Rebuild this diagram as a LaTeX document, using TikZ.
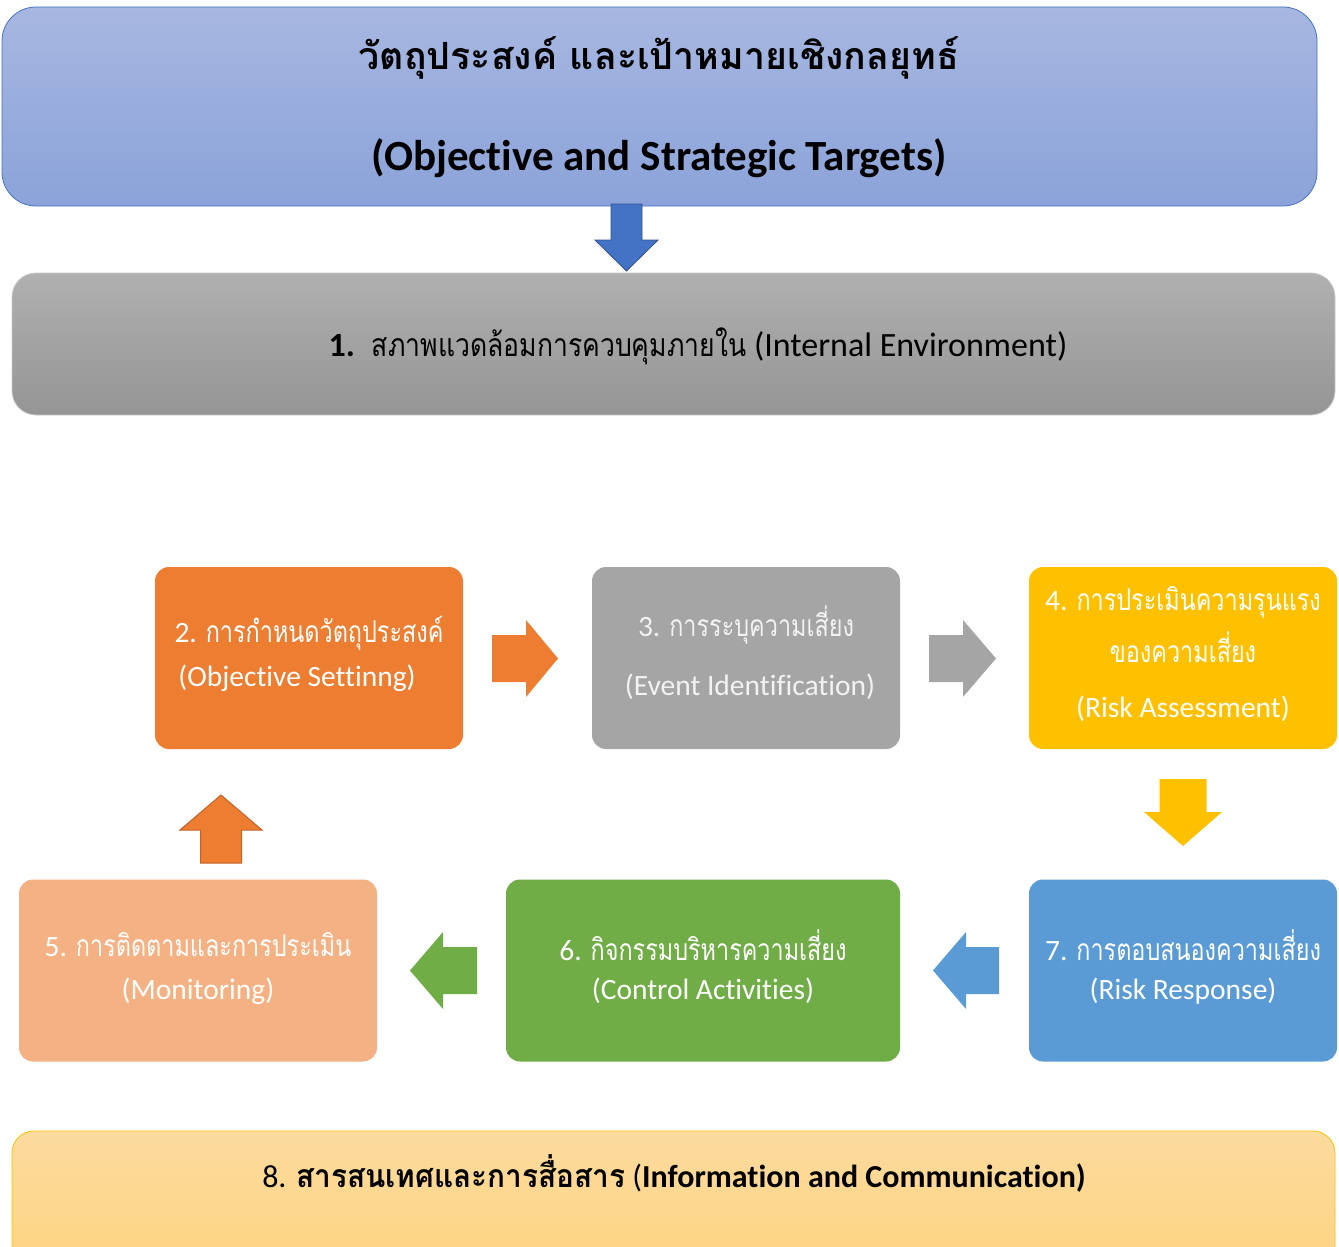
\documentclass[tikz,border=0pt]{standalone}
\usepackage{fontspec}
\setmainfont{Carlito}[Ligatures=NoCommon]
\newfontfamily\thaifont[Script=Thai]{Loma}
\newfontfamily\thaibox[Script=Thai, FakeStretch=0.78]{Loma}
\newfontfamily\thaienv[Script=Thai, FakeStretch=0.83]{Loma}
\newfontfamily\thaiinfo[Script=Thai, FakeStretch=0.93]{Loma}
\newcommand\bth[1]{{\fontsize{30}{36}\selectfont\thaibox #1}}
\usetikzlibrary{calc}
\definecolor{topA}{HTML}{A7B7E1}
\definecolor{topB}{HTML}{8BA3D9}
\definecolor{topLine}{HTML}{4472C4}
\definecolor{arrBlue}{HTML}{4472C4}
\definecolor{arrBlueLine}{HTML}{2F528F}
\definecolor{grayA}{HTML}{B0B0B0}
\definecolor{grayB}{HTML}{959595}
\definecolor{grayLine}{HTML}{C8C8C8}
\definecolor{cOrange}{HTML}{ED7D31}
\definecolor{cOrangeLine}{HTML}{C0622A}
\definecolor{cGray}{HTML}{A5A5A5}
\definecolor{cYellow}{HTML}{FFC000}
\definecolor{cSalmon}{HTML}{F4B183}
\definecolor{cGreen}{HTML}{70AD47}
\definecolor{cBlue}{HTML}{5B9BD5}
\definecolor{botA}{HTML}{FCDB9F}
\definecolor{botB}{HTML}{FED480}
\definecolor{botLine}{HTML}{FFC000}
\tikzset{
  x=1pt, y=-1pt,
  stepbox/.style={rounded corners=14pt, minimum width=308pt, minimum height=182pt, inner sep=0pt, draw=none},
  boxtext/.style={text=white, inner sep=0pt, anchor=center, font=\fontsize{29.5}{34}\selectfont},
}
% #1 center, #2 rotation, #3 length, #4 shaft half width, #5 head half width, #6 head length, #7 style
\newcommand\barrow[7]{%
  \begin{scope}[shift={#1}, rotate=#2]
    \path[#7] (-#3/2,-#4) -- (#3/2-#6,-#4) -- (#3/2-#6,-#5) -- (#3/2,0) -- (#3/2-#6,#5) -- (#3/2-#6,#4) -- (-#3/2,#4) -- cycle;
  \end{scope}}
\begin{document}
\begin{tikzpicture}
\useasboundingbox (0,0) rectangle (1339,1247);
% top box
\node[rounded corners=34pt, minimum width=1315pt, minimum height=199pt, inner sep=0pt,
  top color=topA, bottom color=topB, draw=topLine, line width=0.8pt] (top) at (659.5,106.5) {};
\node[inner sep=0pt, font=\fontsize{37.5}{42}\selectfont\bfseries] (topth) at (659,58) {{\thaifont วัตถุประสงค์ และเป้าหมายเชิงกลยุทธ์}};
\node[inner sep=0pt, font=\fontsize{43}{48}\selectfont\bfseries] (topen) at (659,158) {(Objective and Strategic Targets)};
% internal environment
\node[rounded corners=24pt, minimum width=1323pt, minimum height=142pt, inner sep=0pt,
  top color=grayA, bottom color=grayB, draw=grayLine, line width=0.8pt] (env) at (673.5,344) {};
\node[inner sep=0pt, font=\fontsize{34}{38}\selectfont] (envt) at (698,346) {\textbf{1.}\enspace{\fontsize{32}{38}\selectfont\thaienv สภาพแวดล้อมการควบคุมภายใน} (Internal Environment)};
% arrow top -> env
\barrow{(626.5,237.5)}{-90}{67}{15.5}{31.5}{31}{fill=arrBlue, draw=arrBlueLine, line width=0.8pt}
% step boxes
\node[stepbox, fill=cOrange] (b2) at (309,658) {};
\node[stepbox, fill=cGray] (b3) at (746,658) {};
\node[stepbox, fill=cYellow] (b4) at (1183,658) {};
\node[stepbox, fill=cSalmon, minimum width=358pt] (b5) at (198,970.5) {};
\node[stepbox, fill=cGreen, minimum width=394pt] (b6) at (703,970.5) {};
\node[stepbox, fill=cBlue] (b7) at (1183,970.5) {};
% texts
\node[boxtext] (t2a) at (309,633) {2. \bth{การกำหนดวัตถุประสงค์}};
\node[boxtext] (t2b) at (297,678) {(Objective Settinng)};
\node[boxtext, text=white!95!black] (t3a) at (746,625) {3. \bth{การระบุความเสี่ยง}};
\node[boxtext, text=white!95!black] (t3b) at (750,687) {(Event Identification)};
\node[boxtext] (t4a) at (1183,602) {4. \bth{การประเมินความรุนแรง}};
\node[boxtext] (t4b) at (1183,647) {\bth{ของความเสี่ยง}};
\node[boxtext] (t4c) at (1183,709) {(Risk Assessment)};
\node[boxtext] (t5a) at (198,945) {5. \bth{การติดตามและการประเมิน}};
\node[boxtext] (t5b) at (198,991) {(Monitoring)};
\node[boxtext] (t6a) at (703,945) {6. \bth{กิจกรรมบริหารความเสี่ยง}};
\node[boxtext] (t6b) at (703,991) {(Control Activities)};
\node[boxtext] (t7a) at (1183,945) {7. \bth{การตอบสนองความเสี่ยง}};
\node[boxtext] (t7b) at (1183,991) {(Risk Response)};
% block arrows between steps
\barrow{(525,658.5)}{0}{66}{23.5}{38.5}{32}{fill=cOrange}
\barrow{(962.5,658.5)}{0}{67}{23.5}{38.5}{33}{fill=cGray}
\barrow{(1183,812.5)}{-90}{67}{23.5}{39}{34}{fill=cYellow}
\barrow{(966,970.5)}{180}{66}{23.5}{38.5}{33}{fill=cBlue}
\barrow{(443.5,970.5)}{180}{67}{23.5}{38.5}{33}{fill=cGreen}
\barrow{(221,829)}{90}{68}{20.5}{41}{35}{fill=cOrange, draw=cOrangeLine, line width=1pt}
% bottom box
\begin{scope}
\clip (0,0) rectangle (1339,1247);
\node[rounded corners=22pt, minimum width=1323pt, minimum height=140pt, inner sep=0pt,
  top color=botA, bottom color=botB, draw=botLine, line width=0.8pt] (info) at (673.5,1201) {};
\end{scope}
\node[inner sep=0pt, font=\fontsize{32}{36}\selectfont] (infot) at (674,1173) {8. \textbf{{\thaiinfo สารสนเทศและการสื่อสาร}} (\textbf{Information and Communication)}};
\end{tikzpicture}
\end{document}
